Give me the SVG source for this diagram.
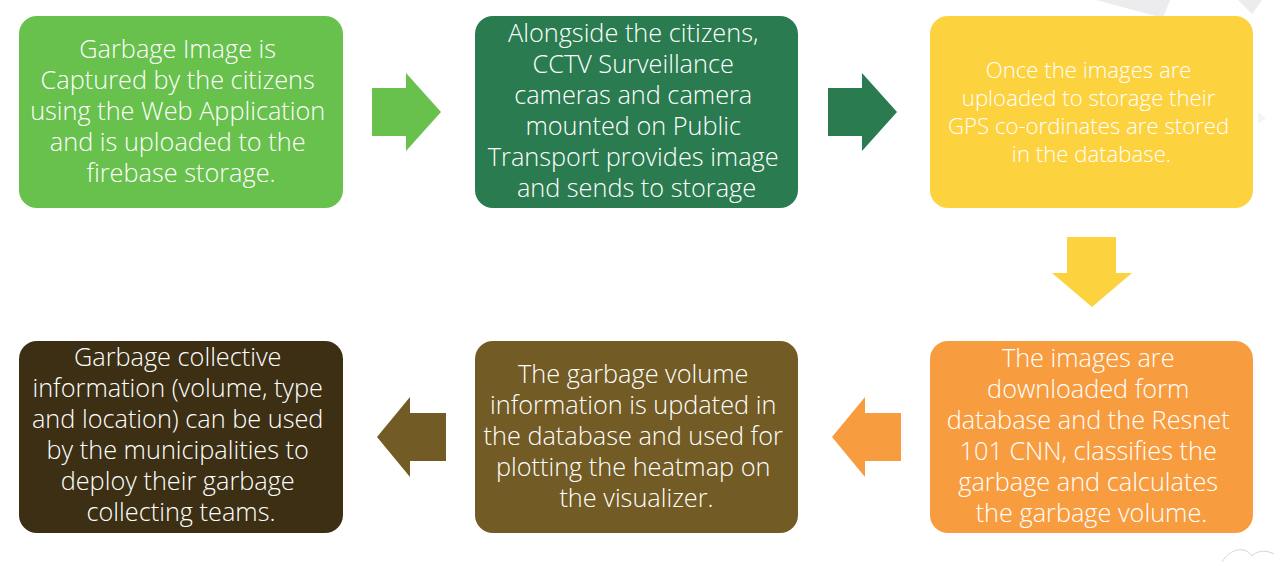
<svg xmlns="http://www.w3.org/2000/svg" width="1280" height="562" viewBox="0 0 1280 562">
  <style>
    .box { stroke: none; }
    .lbl { font-family: "Open Sans", "Liberation Sans", sans-serif; font-weight: 300; font-size: 25.3px; fill: #ffffff; text-anchor: middle; }
    .small { font-size: 22.2px; }
    .deco { fill: #ececef; }
  </style>

  <rect width="1280" height="562" fill="#ffffff"/>

  <!-- faint background ornaments -->
  <g id="ornaments">
    <polygon class="deco" points="1096,0 1170,0 1163,18"/>
    <polygon class="deco" points="1238,0 1262,0 1252,14"/>
    <polygon class="deco" points="1258,112 1266,118 1258,124" opacity="0.6"/>
    <path d="M1222,562 C1230,548 1246,546 1252,556 C1258,550 1266,550 1274,554" fill="none" stroke="#d6d6d8" stroke-width="1"/>
  </g>

  <!-- process steps -->
  <g id="step1">
    <rect class="box" x="19" y="16" width="324" height="192" rx="18" fill="#67c14c"/>
    <text class="lbl">
      <tspan x="181" y="58">Garbage Image is</tspan>
      <tspan x="181" y="89">Captured by the citizens</tspan>
      <tspan x="181" y="120">using the Web Application</tspan>
      <tspan x="181" y="151">and is uploaded to the</tspan>
      <tspan x="181" y="182">firebase storage.</tspan>
    </text>
  </g>

  <g id="step2">
    <rect class="box" x="475" y="16" width="323" height="192" rx="18" fill="#2a7b50"/>
    <text class="lbl">
      <tspan x="636.5" y="42">Alongside the citizens,</tspan>
      <tspan x="636.5" y="73">CCTV Surveillance</tspan>
      <tspan x="636.5" y="104">cameras and camera</tspan>
      <tspan x="636.5" y="135">mounted on Public</tspan>
      <tspan x="636.5" y="166">Transport provides image</tspan>
      <tspan x="636.5" y="197">and sends to storage</tspan>
    </text>
  </g>

  <g id="step3">
    <rect class="box" x="930" y="16" width="323" height="192" rx="18" fill="#fdd23f"/>
    <text class="lbl small">
      <tspan x="1091.5" y="78">Once the images are</tspan>
      <tspan x="1091.5" y="106">uploaded to storage their</tspan>
      <tspan x="1091.5" y="134">GPS co-ordinates are stored</tspan>
      <tspan x="1091.5" y="162">in the database.</tspan>
    </text>
  </g>

  <g id="step4">
    <rect class="box" x="930" y="341" width="323" height="192" rx="18" fill="#f89d3f"/>
    <text class="lbl">
      <tspan x="1091.5" y="367">The images are</tspan>
      <tspan x="1091.5" y="398">downloaded form</tspan>
      <tspan x="1091.5" y="429">database and the Resnet</tspan>
      <tspan x="1091.5" y="460">101 CNN, classifies the</tspan>
      <tspan x="1091.5" y="491">garbage and calculates</tspan>
      <tspan x="1091.5" y="522">the garbage volume.</tspan>
    </text>
  </g>

  <g id="step5">
    <rect class="box" x="475" y="341" width="323" height="192" rx="18" fill="#725b24"/>
    <text class="lbl">
      <tspan x="636.5" y="383">The garbage volume</tspan>
      <tspan x="636.5" y="414">information is updated in</tspan>
      <tspan x="636.5" y="445">the database and used for</tspan>
      <tspan x="636.5" y="476">plotting the heatmap on</tspan>
      <tspan x="636.5" y="507">the visualizer.</tspan>
    </text>
  </g>

  <g id="step6">
    <rect class="box" x="19" y="341" width="324" height="192" rx="18" fill="#3c2f14"/>
    <text class="lbl">
      <tspan x="181" y="366">Garbage collective</tspan>
      <tspan x="181" y="397">information (volume, type</tspan>
      <tspan x="181" y="428">and location) can be used</tspan>
      <tspan x="181" y="459">by the municipalities to</tspan>
      <tspan x="181" y="490">deploy their garbage</tspan>
      <tspan x="181" y="521">collecting teams.</tspan>
    </text>
  </g>

  <!-- block arrows between steps -->
  <g id="connectors">
    <polygon points="372,88 406,88 406,73 441,112 406,151 406,136 372,136" fill="#67c14c"/>
    <polygon points="828,88 862,88 862,73 897,112 862,151 862,136 828,136" fill="#2a7b50"/>
    <polygon points="1067,237 1116,237 1116,273 1132,273 1092,307 1052,273 1067,273" fill="#fdd23f"/>
    <polygon points="901,413 865,413 865,397 832,437 865,477 865,461 901,461" fill="#f89d3f"/>
    <polygon points="446,413 410,413 410,397 377,437 410,477 410,461 446,461" fill="#725b24"/>
  </g>
</svg>
